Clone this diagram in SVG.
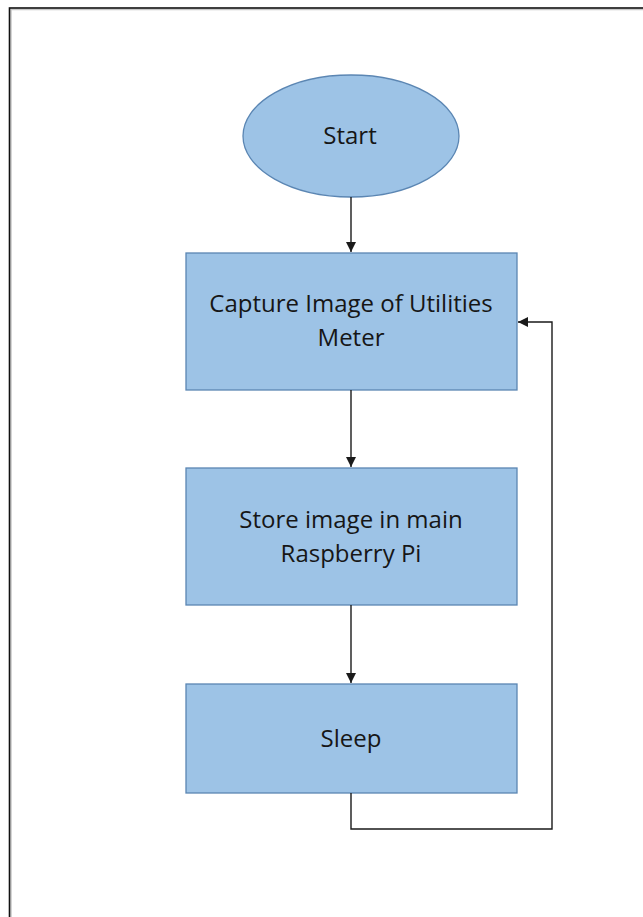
<svg xmlns="http://www.w3.org/2000/svg" width="643" height="917" viewBox="0 0 643 917">
  <style>
    .shape { fill: #9dc3e6; stroke: #5b86b3; stroke-width: 1.3; }
    .label { font-family: "Open Sans", "Liberation Sans", Arial, sans-serif; font-size: 24px; fill: #161616; text-anchor: middle; }
    .link { fill: none; stroke: #1a1a1a; stroke-width: 1.4; }
  </style>
  <defs>
    <marker id="arrow" viewBox="0 0 10 10" refX="10" refY="5" markerWidth="10" markerHeight="10" markerUnits="userSpaceOnUse" orient="auto">
      <path d="M0,0 L10,5 L0,10 Z" fill="#1a1a1a"/>
    </marker>
  </defs>

  <rect width="643" height="917" fill="#ffffff"/>
  <!-- page frame -->
  <rect x="11" y="9.5" width="700" height="1000" fill="none" stroke="#c8c8c8" stroke-width="1.5"/>
  <rect x="9.5" y="8" width="700" height="1000" fill="none" stroke="#111111" stroke-width="1.6"/>

  <g id="start">
    <ellipse class="shape" cx="351" cy="136" rx="108" ry="61"/>
    <text class="label" x="350" y="144">Start</text>
  </g>

  <g id="capture">
    <rect class="shape" x="186" y="253" width="331" height="137"/>
    <text class="label" x="351" y="312">Capture Image of Utilities</text>
    <text class="label" x="351" y="346">Meter</text>
  </g>

  <g id="store">
    <rect class="shape" x="186" y="468" width="331" height="137"/>
    <text class="label" x="351" y="528">Store image in main</text>
    <text class="label" x="351" y="562">Raspberry Pi</text>
  </g>

  <g id="sleep">
    <rect class="shape" x="186" y="684" width="331" height="109"/>
    <text class="label" x="351" y="747">Sleep</text>
  </g>

  <g id="connectors">
    <line class="link" x1="351" y1="197" x2="351" y2="252" marker-end="url(#arrow)"/>
    <line class="link" x1="351" y1="390" x2="351" y2="467" marker-end="url(#arrow)"/>
    <line class="link" x1="351" y1="605" x2="351" y2="683" marker-end="url(#arrow)"/>
    <polyline class="link" points="351,793 351,829 552,829 552,322 518,322" marker-end="url(#arrow)"/>
  </g>
</svg>
